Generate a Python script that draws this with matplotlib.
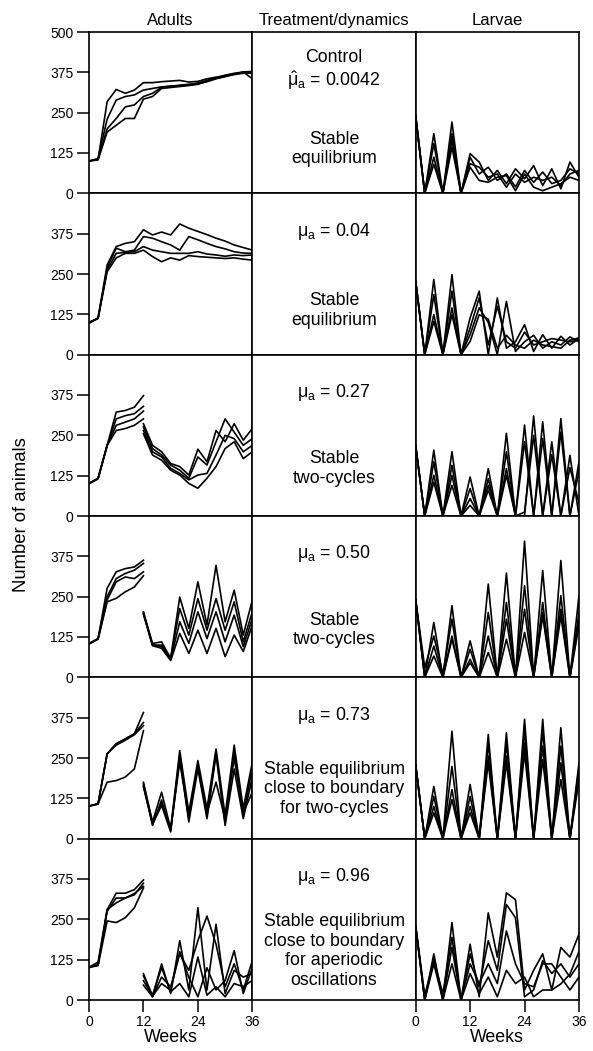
"""Adult and larval numbers under different adult mortality treatments (6 rows x 3 panels)."""
import matplotlib.pyplot as plt

weeks = list(range(0, 38, 2))
weeks_pre = list(range(0, 14, 2))
weeks_post = list(range(12, 38, 2))

# adults, continuous series (control and mu_a = 0.04)
adults_control = [
    [100, 105, 284, 322, 310, 320, 343, 343, 346, 348, 350, 345, 347, 355, 360, 365, 370, 376, 378],
    [100, 108, 230, 289, 300, 305, 320, 325, 330, 332, 335, 338, 340, 346, 355, 362, 368, 372, 375],
    [100, 106, 200, 232, 268, 274, 300, 310, 329, 332, 334, 337, 342, 350, 358, 366, 372, 376, 355],
    [100, 104, 190, 211, 232, 232, 292, 300, 325, 328, 331, 334, 338, 347, 356, 362, 370, 374, 372],
]
adults_004 = [
    [100, 113, 278, 335, 345, 350, 387, 371, 380, 371, 405, 392, 382, 372, 361, 352, 340, 332, 324],
    [100, 112, 270, 330, 319, 324, 366, 361, 350, 340, 324, 366, 356, 345, 335, 328, 319, 315, 314],
    [98, 114, 262, 314, 317, 319, 335, 324, 319, 314, 314, 314, 319, 312, 309, 305, 309, 307, 309],
    [97, 113, 257, 300, 314, 314, 324, 304, 288, 300, 293, 307, 304, 302, 300, 298, 300, 296, 293],
]

# adults before (weeks 0-12) and after (weeks 12-36) the treatment starts
adults_027_pre = [
    [101, 117, 219, 322, 327, 337, 373],
    [101, 116, 219, 301, 311, 317, 340],
    [100, 117, 219, 281, 291, 301, 325],
    [100, 115, 219, 265, 271, 281, 301],
]
adults_027_post = [
    [286, 219, 199, 163, 153, 127, 207, 168, 265, 230, 286, 235, 271],
    [276, 209, 189, 158, 142, 117, 183, 158, 230, 301, 260, 219, 240],
    [265, 199, 183, 148, 132, 112, 127, 132, 189, 250, 240, 199, 219],
    [255, 189, 173, 142, 127, 101, 86, 117, 153, 209, 230, 178, 199],
]
adults_050_pre = [
    [105, 120, 276, 327, 337, 342, 363],
    [104, 119, 250, 306, 322, 332, 353],
    [103, 120, 240, 296, 311, 306, 327],
    [104, 118, 234, 245, 265, 280, 315],
]
adults_050_post = [
    [203, 105, 110, 59, 249, 152, 296, 162, 347, 172, 270, 131, 239],
    [200, 100, 100, 59, 213, 131, 244, 146, 244, 146, 234, 110, 203],
    [198, 100, 95, 55, 172, 105, 203, 120, 203, 110, 193, 95, 182],
    [195, 98, 90, 52, 136, 74, 146, 74, 152, 64, 131, 80, 162],
]
adults_073_pre = [
    [101, 108, 263, 294, 309, 325, 391],
    [101, 108, 263, 294, 309, 325, 360],
    [101, 107, 263, 290, 305, 322, 350],
    [101, 108, 175, 180, 191, 216, 335],
]
adults_073_post = [
    [175, 52, 144, 31, 273, 82, 242, 93, 278, 72, 290, 93, 237],
    [170, 45, 103, 21, 260, 60, 230, 70, 270, 50, 270, 70, 220],
    [165, 41, 120, 25, 250, 52, 216, 62, 260, 41, 216, 62, 190],
    [160, 48, 110, 30, 237, 70, 225, 80, 175, 60, 250, 80, 144],
]
adults_096_pre = [
    [102, 117, 280, 331, 331, 342, 372],
    [101, 107, 275, 316, 316, 326, 362],
    [100, 110, 280, 301, 316, 330, 352],
    [102, 107, 245, 240, 255, 286, 347],
]
adults_096_post = [
    [82, 10, 112, 20, 184, 31, 286, 31, 235, 20, 92, 71, 82],
    [46, 10, 71, 41, 143, 92, 184, 260, 173, 41, 112, 31, 122],
    [75, 15, 100, 25, 51, 10, 133, 15, 41, 10, 51, 41, 61],
    [60, 12, 51, 30, 150, 70, 10, 100, 31, 60, 153, 20, 100],
]

# larvae, weeks 0-36
larvae_control = [
    [242, 0, 185, 0, 221, 0, 123, 97, 40, 71, 30, 76, 45, 86, 24, 76, 14, 97, 50],
    [240, 0, 154, 0, 185, 0, 112, 60, 81, 40, 60, 20, 71, 34, 66, 30, 40, 76, 60],
    [238, 0, 112, 0, 164, 0, 92, 81, 50, 60, 19, 60, 34, 50, 40, 50, 24, 60, 71],
    [236, 0, 90, 0, 143, 0, 81, 40, 34, 50, 55, 8, 60, 19, 8, 19, 30, 50, 40],
]
larvae_004 = [
    [229, 0, 233, 0, 248, 0, 114, 197, 0, 176, 20, 40, 93, 10, 62, 20, 57, 30, 50],
    [228, 0, 186, 0, 197, 0, 83, 176, 30, 150, 40, 20, 70, 30, 40, 50, 45, 40, 45],
    [226, 0, 124, 0, 145, 0, 62, 145, 100, 0, 165, 10, 40, 60, 20, 40, 30, 55, 40],
    [225, 0, 103, 0, 124, 0, 41, 124, 110, 20, 60, 30, 20, 45, 30, 25, 20, 45, 52],
]
larvae_027 = [
    [219, 0, 204, 0, 199, 0, 121, 0, 147, 0, 256, 0, 282, 0, 292, 0, 302, 0, 168],
    [218, 0, 168, 0, 157, 0, 85, 0, 116, 0, 199, 0, 230, 0, 240, 0, 260, 0, 140],
    [217, 0, 126, 0, 126, 0, 54, 0, 95, 0, 147, 0, 0, 310, 0, 230, 0, 188, 0],
    [216, 0, 105, 0, 95, 0, 33, 0, 80, 0, 126, 0, 12, 250, 0, 190, 0, 150, 40],
]
larvae_050 = [
    [242, 0, 170, 0, 222, 0, 113, 0, 289, 0, 323, 0, 422, 0, 331, 0, 362, 0, 253],
    [241, 30, 128, 10, 180, 0, 87, 0, 201, 0, 232, 0, 284, 0, 232, 0, 253, 0, 201],
    [240, 0, 97, 0, 128, 0, 56, 0, 128, 0, 180, 0, 211, 0, 201, 0, 211, 0, 180],
    [239, 0, 66, 0, 118, 0, 45, 0, 77, 0, 118, 0, 139, 0, 190, 0, 190, 0, 160],
]
larvae_073 = [
    [230, 0, 162, 0, 333, 0, 168, 0, 323, 0, 328, 0, 370, 0, 370, 0, 344, 0, 235],
    [229, 0, 131, 0, 224, 0, 131, 0, 297, 0, 297, 0, 338, 0, 338, 0, 287, 0, 220],
    [228, 0, 100, 0, 152, 0, 100, 0, 256, 0, 256, 0, 297, 0, 287, 0, 235, 0, 200],
    [227, 0, 80, 0, 121, 0, 80, 0, 235, 0, 235, 0, 266, 0, 245, 0, 183, 0, 180],
]
larvae_096 = [
    [230, 0, 143, 0, 240, 0, 173, 10, 270, 133, 332, 311, 31, 92, 143, 31, 163, 133, 204],
    [229, 15, 122, 20, 194, 0, 143, 41, 184, 92, 296, 255, 10, 31, 122, 82, 112, 71, 112],
    [228, 0, 112, 0, 163, 0, 112, 51, 112, 51, 214, 112, 51, 41, 112, 112, 71, 31, 71],
    [227, 0, 130, 0, 112, 0, 82, 20, 71, 10, 92, 51, 71, 10, 31, 31, 50, 80, 150],
]

treatment_labels = [
    r"$\hat{\mu}_a$ = 0.0042",
    r"$\mu_a$ = 0.04",
    r"$\mu_a$ = 0.27",
    r"$\mu_a$ = 0.50",
    r"$\mu_a$ = 0.73",
    r"$\mu_a$ = 0.96",
]
dynamics_labels = [
    ["Stable", "equilibrium"],
    ["Stable", "equilibrium"],
    ["Stable", "two-cycles"],
    ["Stable", "two-cycles"],
    ["Stable equilibrium", "close to boundary", "for two-cycles"],
    ["Stable equilibrium", "close to boundary", "for aperiodic", "oscillations"],
]

adults_rows = [
    (adults_control, None),
    (adults_004, None),
    (adults_027_pre, adults_027_post),
    (adults_050_pre, adults_050_post),
    (adults_073_pre, adults_073_post),
    (adults_096_pre, adults_096_post),
]
larvae_rows = [larvae_control, larvae_004, larvae_027, larvae_050, larvae_073, larvae_096]

plt.rcParams["font.family"] = ["Liberation Sans", "DejaVu Sans"]
plt.rcParams["mathtext.fontset"] = "custom"
plt.rcParams["mathtext.rm"] = "Liberation Sans"
plt.rcParams["mathtext.it"] = "Liberation Sans"
plt.rcParams["mathtext.default"] = "regular"

FS_TICK = 10
FS_TEXT = 12.8
LW = 1.2

fig = plt.figure(figsize=(5.93, 10.51), dpi=100)
gs = fig.add_gridspec(6, 3, left=89 / 593, right=579 / 593,
                      top=1 - 32 / 1051, bottom=1 - 1000 / 1051,
                      wspace=0, hspace=0)


def style_axes(ax):
    for sp in ax.spines.values():
        sp.set_linewidth(1.2)
    ax.set_xlim(0, 36)
    ax.set_ylim(0, 500)
    ax.tick_params(direction="out", length=8.5, width=1.1, labelsize=FS_TICK, pad=2.5)


for r in range(6):
    last = r == 5
    ax_a = fig.add_subplot(gs[r, 0])
    ax_t = fig.add_subplot(gs[r, 1])
    ax_l = fig.add_subplot(gs[r, 2])

    # adults
    style_axes(ax_a)
    pre, post = adults_rows[r]
    if post is None:
        for s in pre:
            ax_a.plot(weeks, s, color="black", lw=LW)
    else:
        for s in pre:
            ax_a.plot(weeks_pre, s, color="black", lw=LW)
        for s in post:
            ax_a.plot(weeks_post, s, color="black", lw=LW)
    ax_a.set_yticks([0, 125, 250, 375, 500] if r == 0 else [0, 125, 250, 375])

    # larvae
    style_axes(ax_l)
    for s in larvae_rows[r]:
        ax_l.plot(weeks, s, color="black", lw=LW)
    ax_l.set_yticks([])

    for ax in (ax_a, ax_l):
        if last:
            ax.set_xticks([0, 12, 24, 36])
            ax.set_xlabel("Weeks", fontsize=FS_TEXT, labelpad=0)
        else:
            ax.set_xticks([])

    # treatment / dynamics text
    for sp in ax_t.spines.values():
        sp.set_linewidth(1.2)
    ax_t.set_xticks([])
    ax_t.set_yticks([])
    y0 = 0.765
    if r == 0:
        ax_t.text(0.5, 0.845, "Control", transform=ax_t.transAxes,
                  ha="center", va="center", fontsize=FS_TEXT)
        y0 = 0.70
    ax_t.text(0.5, y0, treatment_labels[r], transform=ax_t.transAxes,
              ha="center", va="center", fontsize=FS_TEXT)
    lines = dynamics_labels[r]
    top = {2: 0.335, 3: 0.43, 4: 0.484}[len(lines)]
    if r in (2, 3):
        top = 0.355
    for i, txt in enumerate(lines):
        ax_t.text(0.5, top - i * 0.121, txt, transform=ax_t.transAxes,
                  ha="center", va="center", fontsize=FS_TEXT)

    if r == 0:
        ax_a.set_title("Adults", fontsize=FS_TEXT - 0.8, pad=5)
        ax_t.set_title("Treatment/dynamics", fontsize=FS_TEXT - 0.8, pad=5)
        ax_l.set_title("Larvae", fontsize=FS_TEXT - 0.8, pad=5)

fig.text(22 / 593, 1 - 515 / 1051, "Number of animals", rotation=90,
         ha="center", va="center", fontsize=FS_TEXT + 0.5)

fig.savefig("out.png", dpi=100)
